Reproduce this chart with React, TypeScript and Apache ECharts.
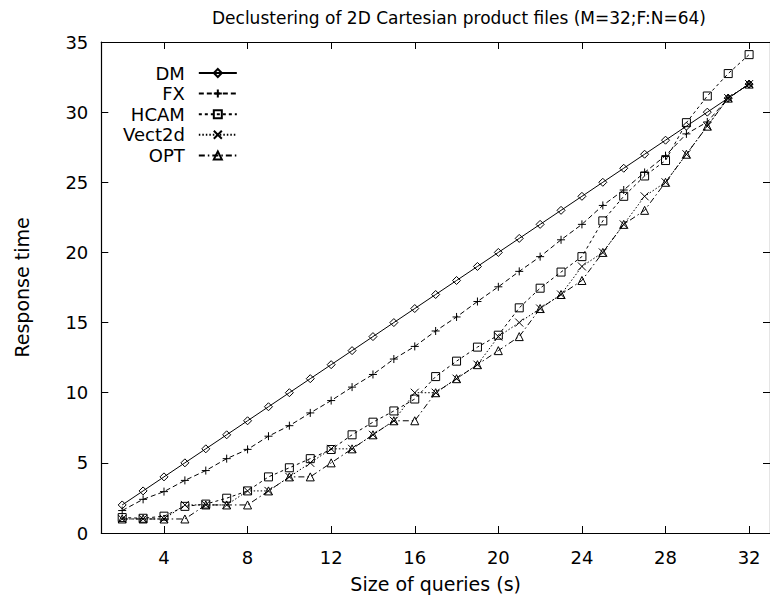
import React, { useEffect, useRef } from "react";
import * as echarts from "echarts";

const querySizes = [2,3,4,5,6,7,8,9,10,11,12,13,14,15,16,17,18,19,20,21,22,23,24,25,26,27,28,29,30,31,32];
const dmValues = [2,3,4,5,6,7,8,9,10,11,12,13,14,15,16,17,18,19,20,21,22,23,24,25,26,27,28,29,30,31,32];
const fxValues = [1.6,2.4,2.95,3.75,4.45,5.3,5.96,6.9,7.65,8.56,9.44,10.4,11.3,12.4,13.3,14.4,15.4,16.5,17.55,18.65,19.7,20.9,22.0,23.35,24.45,25.7,26.9,28.45,29.3,31,32];
const hcamValues = [1.1,1.05,1.2,1.9,2.06,2.48,3.0,4.0,4.65,5.3,5.95,7.0,7.9,8.7,9.55,11.15,12.25,13.25,14.1,16.05,17.45,18.6,19.7,22.25,24.0,25.45,26.55,29.25,31.15,32.75,34.1];
const vect2dValues = [1,1,1,2,2,2,3,3,4,5,6,6,7,8,10,10,11,12,14,15,16,17,19,20,22,24,25,27,29,31,32];
const optValues = [1,1,1,1,2,2,2,3,4,4,5,6,7,8,8,10,11,12,13,14,16,17,18,20,22,23,25,27,29,31,32];
const xTickValues = [4,8,12,16,20,24,28,32];
const seriesNames = ["DM","FX","HCAM","Vect2d","OPT"];

const FONT = "'DejaVu Sans', 'Liberation Sans', sans-serif";

function pairs(values: number[]) {
  return querySizes.map((x, i) => [x, values[i]]);
}

export default function App() {
  const ref = useRef<HTMLDivElement>(null);
  useEffect(() => {
    if (!ref.current) return;
    const chart = echarts.init(ref.current, undefined, { renderer: "svg" });
    const black = "#000";
    const mkSeries = (name: string, values: number[], symbol: string, symbolSize: number | number[], dash: any) => ({
      name,
      type: "line",
      data: pairs(values),
      symbol,
      symbolSize,
      showAllSymbol: true,
      silent: true,
      lineStyle: { color: black, width: 1, type: dash },
      itemStyle: { color: "rgba(0,0,0,0)", borderColor: black, borderWidth: 1 },
      emphasis: { disabled: true },
    });
    const tickCommon = { inside: true, length: 7, lineStyle: { color: black, width: 1 } };
    const lineCommon = { show: true, onZero: false, lineStyle: { color: black, width: 1.2 } };
    chart.setOption({
      animation: false,
      backgroundColor: "#fff",
      graphic: [
        {
          type: "text",
          x: 459,
          y: 18,
          style: {
            text: "Declustering of 2D Cartesian product files (M=32;F:N=64)",
            align: "center",
            verticalAlign: "middle",
            font: `17px ${FONT}`,
            fill: black,
          },
        },
      ],
      legend: {
        data: seriesNames,
        orient: "vertical",
        left: 118,
        top: 59,
        align: "right",
        itemWidth: 38,
        itemHeight: 10,
        itemGap: 2.6,
        selectedMode: false,
        textStyle: { fontFamily: FONT, fontSize: 18, color: black, lineHeight: 18, padding: [0, 9, 0, 0] },
      },
      grid: { left: 101.3, top: 42, right: -3, bottom: 52.4, containLabel: false },
      xAxis: [
        {
          type: "value",
          min: 1,
          max: 33,
          position: "bottom",
          axisLine: lineCommon,
          axisTick: { ...tickCommon, customValues: xTickValues },
          axisLabel: { customValues: xTickValues, fontFamily: FONT, fontSize: 18, color: black, margin: 15 },
          splitLine: { show: false },
          name: "Size of queries (s)",
          nameLocation: "middle",
          nameGap: 41,
          nameTextStyle: { fontFamily: FONT, fontSize: 19, color: black },
        },
        {
          type: "value",
          min: 1,
          max: 33,
          position: "top",
          axisLine: lineCommon,
          axisTick: { ...tickCommon, customValues: xTickValues },
          axisLabel: { show: false },
          splitLine: { show: false },
        },
      ],
      yAxis: [
        {
          type: "value",
          min: 0,
          max: 35,
          interval: 5,
          position: "left",
          axisLine: lineCommon,
          axisTick: tickCommon,
          axisLabel: { fontFamily: FONT, fontSize: 18, color: black, margin: 13 },
          splitLine: { show: false },
          name: "Response time",
          nameLocation: "middle",
          nameRotate: 90,
          nameGap: 70,
          nameTextStyle: { fontFamily: FONT, fontSize: 19, color: black },
        },
        {
          type: "value",
          min: 0,
          max: 35,
          interval: 5,
          position: "right",
          axisLine: lineCommon,
          axisTick: tickCommon,
          axisLabel: { show: false },
          splitLine: { show: false },
        },
      ],
      series: [
        mkSeries("DM", dmValues, "diamond", 8, "solid"),
        mkSeries("FX", fxValues, "path://M0,5L10,5M5,0L5,10", 8, [5, 3]),
        mkSeries("HCAM", hcamValues, "rect", 8, [3, 3]),
        mkSeries("Vect2d", vect2dValues, "path://M0,0L10,10M10,0L0,10", 8, [1.5, 2]),
        mkSeries("OPT", optValues, "triangle", 8, [6, 3, 1.5, 3]),
      ],
    });
    return () => chart.dispose();
  }, []);
  return (
    <div
      ref={ref}
      style={{ position: "fixed", left: 0, top: 0, width: 770, height: 598, background: "#fff" }}
    />
  );
}
